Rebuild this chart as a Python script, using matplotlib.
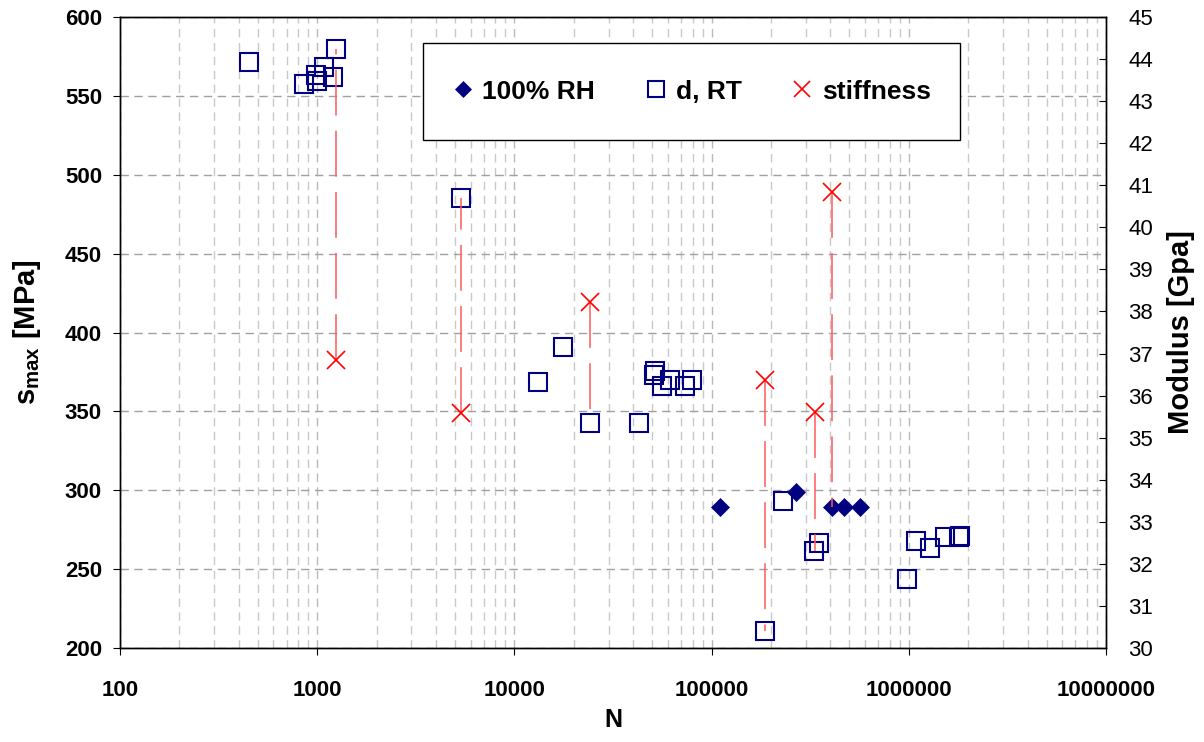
import numpy as np
import matplotlib
matplotlib.use("Agg")
import matplotlib.pyplot as plt
from matplotlib.patches import Rectangle
from matplotlib.ticker import FixedLocator, FuncFormatter, LogLocator, NullFormatter

plt.rcParams["font.family"] = ["Liberation Sans", "DejaVu Sans"]
plt.rcParams["mathtext.default"] = "regular"

# ── data ──────────────────────────────────────────────────────────────────────
# 100% RH (left axis, MPa)
N_rh = [110800, 268000, 410000, 467000, 565000]
s_rh = [289.1, 298.9, 289.7, 289.1, 289.1]

# d, RT (left axis, MPa)
N_rt = [452, 855, 984, 1000, 1088, 1209, 1242,
        5380, 13150, 17620, 24040, 43050,
        51000, 51900, 56100, 61500, 73300, 79400,
        186600, 229000, 332000, 351500,
        977000, 1087000, 1283000, 1528000, 1800000, 1820000]
s_rt = [571.2, 557.3, 563.4, 559.4, 568.1, 562.1, 579.7,
        485.5, 368.7, 390.9, 342.9, 342.7,
        373.3, 375.4, 365.9, 370.2, 366.3, 370.2,
        211.0, 292.9, 261.2, 266.5,
        243.8, 267.7, 263.3, 270.3, 270.5, 271.1]

# stiffness (right axis, GPa) and the stress value each drop line ends at
N_st = [1242, 5380, 24040, 186600, 332700, 410000]
E_st = [36.84, 35.59, 38.23, 36.36, 35.60, 40.83]
s_end = [579.7, 485.5, 342.9, 211.0, 261.2, 289.7]

x_ticks = [100, 1000, 10000, 100000, 1000000, 10000000]
y_left = (200, 600)
y_right = (30, 45)

navy = "#000080"

fig = plt.figure(figsize=(12.04, 7.42), dpi=100)
ax = fig.add_axes([0.0997, 0.1267, 0.8189, 0.8503])
ax2 = ax.twinx()

# ── grid ──────────────────────────────────────────────────────────────────────
ax.set_xscale("log")
ax.set_xlim(x_ticks[0], x_ticks[-1])
ax.set_ylim(*y_left)
ax.xaxis.set_major_locator(FixedLocator(x_ticks))
ax.xaxis.set_minor_locator(LogLocator(base=10, subs=np.arange(2, 10)))
ax.xaxis.set_minor_formatter(NullFormatter())
ax.xaxis.set_major_formatter(FuncFormatter(lambda v, _: f"{int(round(v))}"))
ax.set_yticks(np.arange(200, 601, 50))

ax.grid(True, which="major", axis="y", color="#a0a0a0", lw=1.0,
        linestyle=(0, (6, 4)))
ax.grid(True, which="major", axis="x", color="#b8b8b8", lw=1.0,
        linestyle=(0, (6, 4)))
ax.grid(True, which="minor", axis="x", color="#c8c8c8", lw=1.0,
        linestyle=(0, (6, 4)))
ax.set_axisbelow(True)

# ── series ────────────────────────────────────────────────────────────────────
h_rh, = ax.plot(N_rh, s_rh, linestyle="none", marker="D", ms=9.2,
                mfc=navy, mec=navy, mew=0.5, zorder=4, label="100% RH")
h_rt, = ax.plot(N_rt, s_rt, linestyle="none", marker="s", ms=12.8,
                mfc="none", mec=navy, mew=1.5, zorder=4, label="d, RT")

ax2.set_ylim(*y_right)
ax2.set_yticks(np.arange(30, 46, 1))

# drop lines from stiffness to the matching stress point, in right-axis units
k = (y_right[1] - y_right[0]) / (y_left[1] - y_left[0])
for n, e, s in zip(N_st, E_st, s_end):
    ax2.plot([n, n], [e, y_right[0] + (s - y_left[0]) * k], color="#ff5a5a",
             lw=1.1, linestyle=(0, (30, 10)), zorder=2)

h_st, = ax2.plot(N_st, E_st, linestyle="none", marker="x", ms=13.5,
                 mec="#ff0000", mew=1.2, zorder=5, label="stiffness")

# ── axes styling ──────────────────────────────────────────────────────────────
for a in (ax, ax2):
    for sp in a.spines.values():
        sp.set_color("black")
        sp.set_linewidth(1.0)

ax.tick_params(axis="x", which="major", length=5, pad=18, labelsize=16)
ax.tick_params(axis="x", which="minor", length=0)
ax.tick_params(axis="y", length=5, labelsize=16, pad=8)
ax2.tick_params(axis="y", direction="in", length=5, labelsize=16, pad=16)
for lbl in ax.get_xticklabels() + ax.get_yticklabels():
    lbl.set_fontweight("bold")

ax.set_xlabel("N", fontsize=18, fontweight="bold", labelpad=5)
ax.set_ylabel(r"s$_{\mathregular{max}}$ [MPa]", fontsize=21,
              fontweight="bold", labelpad=16)
ax2.set_ylabel("Modulus [Gpa]", fontsize=21, fontweight="bold", labelpad=10)

# legend box with the entries centred inside
ax2.add_patch(Rectangle((0.3073, 0.805), 0.5446, 0.1537,
                        transform=ax2.transAxes, facecolor="white",
                        edgecolor="black", lw=1.0, zorder=6))
leg = ax2.legend(handles=[h_rh, h_rt, h_st], loc="center",
                 bbox_to_anchor=(0.579, 0.882), ncol=3, frameon=False,
                 borderpad=0.2, handlelength=0.9, handletextpad=0.3,
                 columnspacing=1.85, markerscale=0.9,
                 prop={"weight": "bold", "size": 19})
leg.set_zorder(7)

fig.savefig("out.png", dpi=100)
